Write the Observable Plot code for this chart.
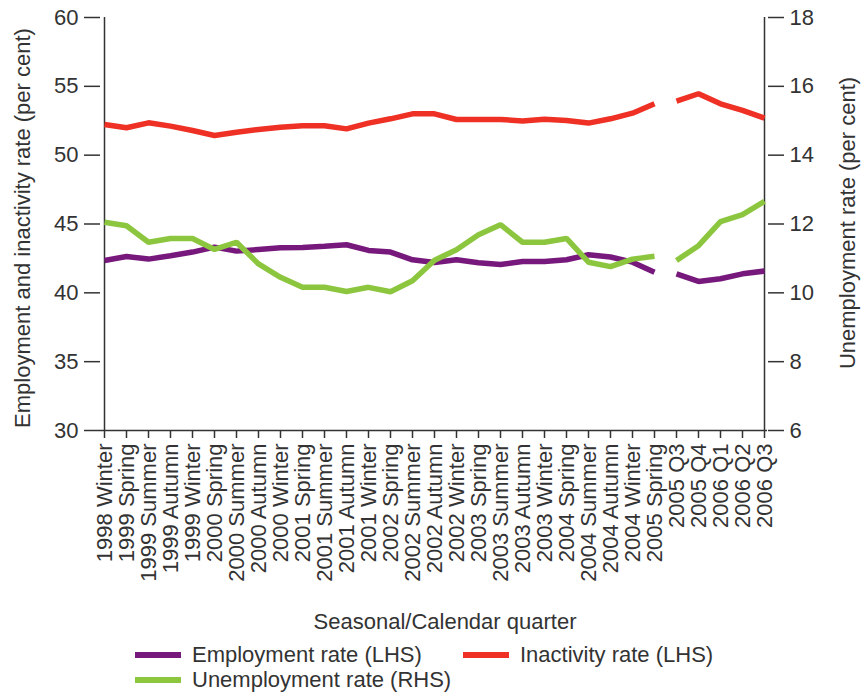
<!DOCTYPE html>
<html><head><meta charset="utf-8">
<script src="https://cdn.jsdelivr.net/npm/d3@7"></script>
<script src="https://cdn.jsdelivr.net/npm/@observablehq/plot@0.6"></script>
<style>
body{margin:0;background:#fff;font-family:"Liberation Sans",Arial,sans-serif;}
#wrap{position:relative;width:866px;height:693px;overflow:hidden;}
#chart{position:absolute;left:0;top:0;}
.leg{position:absolute;font-size:22px;color:#333;line-height:22px;white-space:nowrap;}
.sw{position:absolute;width:46px;height:6px;}
</style></head><body><div id="wrap"><div id="chart"></div></div>
<script>
const quarters = ["1998 Winter","1999 Spring","1999 Summer","1999 Autumn","1999 Winter","2000 Spring","2000 Summer","2000 Autumn","2000 Winter","2001 Spring","2001 Summer","2001 Autumn","2001 Winter","2002 Spring","2002 Summer","2002 Autumn","2002 Winter","2003 Spring","2003 Summer","2003 Autumn","2003 Winter","2004 Spring","2004 Summer","2004 Autumn","2004 Winter","2005 Spring","2005 Q3","2005 Q4","2006 Q1","2006 Q2","2006 Q3"];
const periodType = ["seasonal","seasonal","seasonal","seasonal","seasonal","seasonal","seasonal","seasonal","seasonal","seasonal","seasonal","seasonal","seasonal","seasonal","seasonal","seasonal","seasonal","seasonal","seasonal","seasonal","seasonal","seasonal","seasonal","seasonal","seasonal","seasonal","calendar","calendar","calendar","calendar","calendar"];
const employment = [42.35,42.64,42.45,42.69,42.96,43.32,43.03,43.15,43.27,43.3,43.39,43.49,43.08,42.96,42.4,42.2,42.4,42.18,42.06,42.28,42.28,42.4,42.77,42.6,42.23,41.5,41.38,40.83,41.02,41.38,41.58];
const inactivity = [52.23,51.99,52.35,52.11,51.79,51.43,51.67,51.87,52.03,52.13,52.13,51.91,52.33,52.64,53.0,53.0,52.59,52.59,52.59,52.49,52.61,52.52,52.33,52.64,53.05,53.73,53.92,54.46,53.73,53.25,52.69];
const unemployment = [12.05,11.95,11.47,11.58,11.58,11.26,11.47,10.84,10.45,10.16,10.16,10.04,10.16,10.03,10.35,10.95,11.25,11.69,11.98,11.47,11.47,11.58,10.89,10.76,10.98,11.06,10.94,11.37,12.07,12.27,12.66];
const leftTicks = [30,35,40,45,50,55,60];
const rightTicks = [6,8,10,12,14,16,18];
const seriesNames = ["Employment rate (LHS)","Inactivity rate (LHS)","Unemployment rate (RHS)"];
const seriesColors = ["#77197c","#ee3124","#8cc63f"];

// map right-hand scale (6..18) onto left-hand scale (30..60)
const toLeft = u => 30 + (u - 6) * 2.5;
const fromLeft = v => (v - 30) / 2.5 + 6;

const rows = quarters.map((q, i) => ({q, part: periodType[i], emp: employment[i], ina: inactivity[i], une: toLeft(unemployment[i])}));

const ink = "#333";
const fs = 22;

const plot = Plot.plot({
  width: 866,
  height: 640,
  marginLeft: 100,
  marginRight: 99,
  marginTop: 17,
  marginBottom: 210,
  style: {fontFamily: '"Liberation Sans", Arial, sans-serif', color: ink, background: "transparent"},
  x: {type: "point", domain: quarters, padding: 0},
  y: {domain: [30, 60]},
  marks: [
    Plot.ruleY([30], {stroke: ink, strokeWidth: 1.5}),
    Plot.ruleX([quarters[0], quarters[quarters.length - 1]], {y1: 30, y2: 60, stroke: ink, strokeWidth: 1.5}),
    Plot.axisY({anchor: "left", ticks: leftTicks, tickSize: 16, tickPadding: 6, fontSize: fs, label: null, stroke: ink, strokeWidth: 1.5}),
    Plot.axisY({anchor: "right", ticks: rightTicks.map(toLeft), tickFormat: d => String(Math.round(fromLeft(d))), tickSize: 16, tickPadding: 6, fontSize: fs, label: null, stroke: ink, strokeWidth: 1.5}),
    Plot.axisX({anchor: "bottom", tickRotate: -90, tickSize: 8, tickPadding: 5, fontSize: fs, label: null, stroke: ink, strokeWidth: 1.5}),
    Plot.line(rows, {x: "q", y: "emp", z: "part", stroke: seriesColors[0], strokeWidth: 5.5, strokeLinecap: "butt", strokeLinejoin: "miter"}),
    Plot.line(rows, {x: "q", y: "ina", z: "part", stroke: seriesColors[1], strokeWidth: 5.5, strokeLinecap: "butt", strokeLinejoin: "miter"}),
    Plot.line(rows, {x: "q", y: "une", z: "part", stroke: seriesColors[2], strokeWidth: 5.5, strokeLinecap: "butt", strokeLinejoin: "miter"}),
    Plot.text(["Employment and inactivity rate (per cent)"], {frameAnchor: "left", dx: -78, dy: 4, rotate: -90, fontSize: fs, fill: ink, textAnchor: "middle", lineAnchor: "middle"}),
    Plot.text(["Unemployment rate (per cent)"], {frameAnchor: "right", dx: 80, dy: -1, rotate: -90, fontSize: fs, fill: ink, textAnchor: "middle", lineAnchor: "middle"}),
    Plot.text(["Seasonal/Calendar quarter"], {frameAnchor: "bottom", dx: 11, dy: 191, fontSize: fs, fill: ink, textAnchor: "middle", lineAnchor: "middle"})
  ]
});
document.getElementById("chart").appendChild(plot);

const legendItems = [
  {name: seriesNames[0], color: seriesColors[0], left: 135, y: 655},
  {name: seriesNames[1], color: seriesColors[1], left: 463, y: 655},
  {name: seriesNames[2], color: seriesColors[2], left: 135, y: 680}
];
const wrap = document.getElementById("wrap");
for (const it of legendItems) {
  const sw = document.createElement("div");
  sw.className = "sw";
  sw.style.left = it.left + "px";
  sw.style.top = (it.y - 3) + "px";
  sw.style.background = it.color;
  wrap.appendChild(sw);
  const t = document.createElement("div");
  t.className = "leg";
  t.style.left = (it.left + 57) + "px";
  t.style.top = (it.y - 11) + "px";
  t.textContent = it.name;
  wrap.appendChild(t);
}
</script>
</body></html>
